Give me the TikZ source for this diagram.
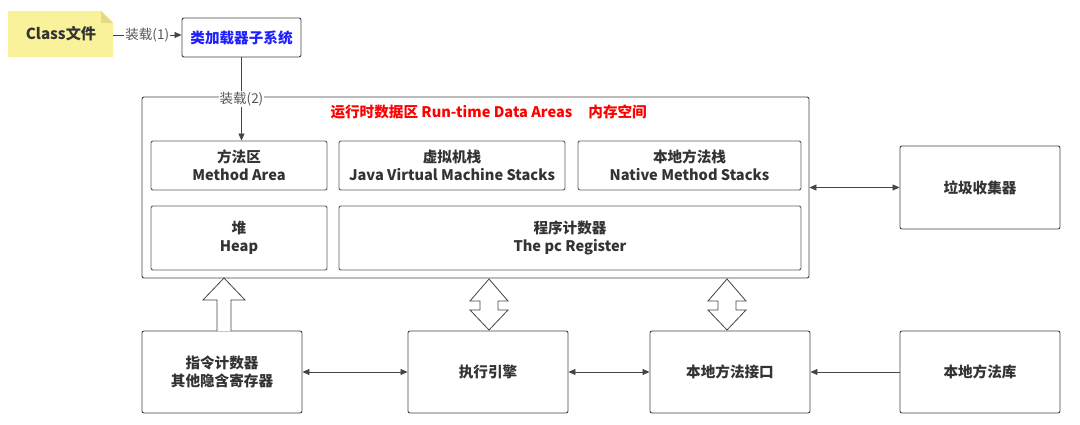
\documentclass[tikz,border=0pt]{standalone}
\usepackage{fontspec}
\setmainfont{Noto Sans CJK SC}
\usetikzlibrary{arrows.meta}
\definecolor{notefill}{HTML}{F9F29B}
\definecolor{notefold}{HTML}{E2DB84}
\definecolor{linec}{HTML}{444444}
\definecolor{txt}{HTML}{333333}
\definecolor{blu}{HTML}{1F1FFF}
\begin{document}
\begin{tikzpicture}[x=1pt,y=-1pt,
  box/.style={draw=linec,line width=0.9pt,rounded corners=2pt,fill=white,align=center,
    font=\fontsize{14.6}{18}\selectfont\bfseries,text=txt,inner sep=0pt},
  inbox/.style={box,draw=linec!85},
  conn/.style={draw=linec,line width=0.8pt},
  tip/.style={-{Triangle[length=7pt,width=6pt]}},
  tips/.style={{Triangle[length=7pt,width=6pt]}-{Triangle[length=7pt,width=6pt]}},
  lbl/.style={fill=white,inner sep=1pt,text=linec!90,font=\fontsize{13.5}{16}\selectfont},
  blk/.style={draw=linec,line width=0.8pt,fill=white,line join=miter}]
\useasboundingbox (0,0) rectangle (1080,425);
% note
\fill[notefill] (8,11) -- (101,11) -- (113,23) -- (113,57) -- (8,57) -- cycle;
\fill[notefold] (101,11) -- (113,23) -- (101,23) -- cycle;
\node[font=\fontsize{15.2}{18}\selectfont\bfseries,text=txt] (cls) at (61,34) {Class文件};
\coordinate (clsR) at (113,35);
% loader
\node[box,minimum width=119pt,minimum height=39pt,text=blu] (ldr) at (241.5,37.5) {类加载器子系统};
% outer area
\node[box,minimum width=667pt,minimum height=181pt] (area) at (475.5,187.5) {};
\node[font=\fontsize{14.6}{18}\selectfont\bfseries,text=red,anchor=west] (title) at (327,112) {运行时数据区 Run-time Data Areas\hspace{1.1em}内存空间};
% inner
\node[inbox,minimum width=176pt,minimum height=49pt] (ma) at (239,165.5) {方法区\\Method Area};
\node[inbox,minimum width=226pt,minimum height=49pt] (jvms) at (452,165.5) {虚拟机栈\\Java Virtual Machine Stacks};
\node[inbox,minimum width=223pt,minimum height=49pt] (nms) at (689.5,165.5) {本地方法栈\\Native Method Stacks};
\node[inbox,minimum width=176pt,minimum height=64pt] (heap) at (239,238) {堆\\Heap};
\node[inbox,minimum width=462pt,minimum height=64pt] (pc) at (570,238) {程序计数器\\The pc Register};
% right/bottom
\node[box,minimum width=160pt,minimum height=83pt] (gc) at (980,187.5) {垃圾收集器};
\node[box,minimum width=160pt,minimum height=82pt] (reg) at (222,372) {指令计数器\\其他隐含寄存器};
\node[box,minimum width=160pt,minimum height=82pt] (eng) at (488,372) {执行引擎};
\node[box,minimum width=160pt,minimum height=82pt] (jni) at (730,372) {本地方法接口};
\node[box,minimum width=160pt,minimum height=82pt] (lib) at (980,372) {本地方法库};
% connectors
\draw[conn,tip] (clsR) -- node[lbl]{装载(1)} (ldr.west |- clsR);
\draw[conn,tip] (ldr.south) -- node[lbl,pos=0.5]{装载(2)} (ma.north -| ldr.south);
\draw[conn,tips] (area.east |- gc.west) -- (gc.west);
\draw[conn,tips] (reg.east) -- (eng.west);
\draw[conn,tips] (eng.east) -- (jni.west);
\draw[conn,tip] (lib.west) -- (jni.east);
% block arrows
\draw[blk] (217,331) -- (217,300) -- (203,300) -- (224,278) -- (245,300) -- (231,300) -- (231,331);
\foreach \cx in {489,727} {
  \draw[blk] (\cx,279) -- (\cx+19,301) -- (\cx+9,301) -- (\cx+9,310) -- (\cx+19,310) -- (\cx,330)
    -- (\cx-19,310) -- (\cx-9,310) -- (\cx-9,301) -- (\cx-19,301) -- cycle;
}
\end{tikzpicture}
\end{document}
